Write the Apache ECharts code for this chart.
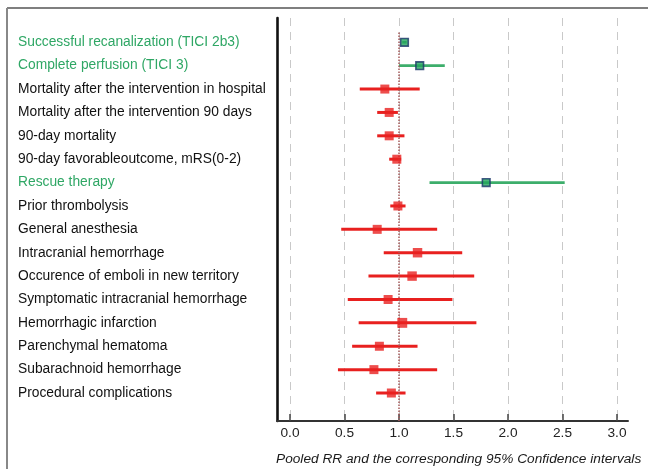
<!DOCTYPE html>
<html>
<head>
<meta charset="utf-8">
<script src="https://cdn.jsdelivr.net/npm/echarts@6/dist/echarts.min.js"></script>
<style>
html,body{margin:0;padding:0;background:#fff;}
#chart{width:648px;height:469px;}
</style>
</head>
<body>
<div id="chart"></div>
<script>
// ---- data ----
var categories = [
  'Successful recanalization (TICI 2b3)',
  'Complete perfusion (TICI 3)',
  'Mortality after the intervention in hospital',
  'Mortality after the intervention 90 days',
  '90-day mortality',
  '90-day favorableoutcome, mRS(0-2)',
  'Rescue therapy',
  'Prior thrombolysis',
  'General anesthesia',
  'Intracranial hemorrhage',
  'Occurence of emboli in new territory',
  'Symptomatic intracranial hemorrhage',
  'Hemorrhagic infarction',
  'Parenchymal hematoma',
  'Subarachnoid hemorrhage',
  'Procedural complications'
];
var estimates = [1.05, 1.19, 0.87, 0.91, 0.91, 0.98, 1.80, 0.99, 0.80, 1.17, 1.12, 0.90, 1.03, 0.82, 0.77, 0.93];
var lower     = [1.03, 1.00, 0.64, 0.80, 0.80, 0.91, 1.28, 0.92, 0.47, 0.86, 0.72, 0.53, 0.63, 0.57, 0.44, 0.79];
var upper     = [1.07, 1.42, 1.19, 0.99, 1.05, 1.02, 2.52, 1.06, 1.35, 1.58, 1.69, 1.49, 1.71, 1.17, 1.35, 1.06];
var weights   = [0.85, 0.85, 1.0, 1.0, 1.0, 1.0, 0.85, 1.0, 1.0, 1.05, 1.05, 1.0, 1.1, 1.0, 1.0, 1.0];
var highlighted = [1, 1, 0, 0, 0, 0, 1, 0, 0, 0, 0, 0, 0, 0, 0, 0];
var xTicks = [0, 0.5, 1.0, 1.5, 2.0, 2.5, 3.0];
var nullValue = 1.0;
var axisTitle = 'Pooled RR and the corresponding 95% Confidence intervals';

// ---- styles ----
var FONT = '"Liberation Sans", Arial, Helvetica, sans-serif';
var RED = '#e8201f';
var GREEN_LINE = '#3dae6b';
var GREEN_FILL = '#23a55c';
var NAVY = '#1a3569';
var GREEN_TEXT = '#2fa765';

var ciData = categories.map(function (c, i) { return [lower[i], upper[i], i]; });
var ptData = categories.map(function (c, i) {
  var g = highlighted[i] === 1;
  return {
    value: [estimates[i], i],
    symbolSize: 9 * weights[i],
    itemStyle: g ? {color: GREEN_FILL, borderColor: NAVY, borderWidth: 1.6} : {color: RED, borderWidth: 0}
  };
});

var chart = echarts.init(document.getElementById('chart'), null, {renderer: 'canvas'});
var option = {
  backgroundColor: '#ffffff',
  animation: false,
  textStyle: {fontFamily: FONT},
  title: {
    text: axisTitle,
    left: 271, top: 447,
    textStyle: {fontFamily: FONT, fontSize: 13.7, fontStyle: 'italic', fontWeight: 'normal', color: '#1a1a1a'}
  },
  graphic: [
    {type: 'line', shape: {x1: 7, y1: 8, x2: 648, y2: 8}, style: {stroke: '#555', lineWidth: 1.6}, silent: true},
    {type: 'line', shape: {x1: 7, y1: 8, x2: 7, y2: 469}, style: {stroke: '#888', lineWidth: 2}, silent: true}
  ],
  grid: [
    {left: 290, right: 31, top: 18, bottom: 48, containLabel: false, outerBoundsMode: 'none'},
    {left: 290, right: 31, top: 30.6, bottom: 64.3, containLabel: false, outerBoundsMode: 'none'},
    {left: 277, right: 20, top: 18, bottom: 48, containLabel: false, outerBoundsMode: 'none'}
  ],
  xAxis: [
    {
      gridIndex: 0, type: 'value', min: xTicks[0], max: xTicks[xTicks.length - 1], interval: 0.5,
      axisLine: {show: false},
      axisTick: {show: true, inside: true, length: 7, lineStyle: {color: '#444', width: 1.5}},
      splitLine: {show: true, lineStyle: {color: '#c9c9c9', width: 1, type: [8, 6]}},
      axisLabel: {show: true, margin: 5, fontFamily: FONT, fontSize: 13.7, color: '#222',
        formatter: function (v) { return v.toFixed(1); }}
    },
    {
      gridIndex: 1, type: 'value', min: xTicks[0], max: xTicks[xTicks.length - 1],
      show: false
    },
    {
      gridIndex: 2, type: 'value', min: 0, max: 1,
      axisLine: {show: true, onZero: false, lineStyle: {color: '#333', width: 2}},
      axisTick: {show: false}, axisLabel: {show: false}, splitLine: {show: false}
    }
  ],
  yAxis: [
    {gridIndex: 0, type: 'value', min: 0, max: 1, show: false},
    {
      gridIndex: 1, type: 'category', data: categories, inverse: true, boundaryGap: true,
      axisLine: {show: false}, axisTick: {show: false}, splitLine: {show: false},
      axisLabel: {
        show: true, interval: 0, margin: 272, align: 'left', verticalAlign: 'middle',
        fontFamily: FONT, fontSize: 13.8,
        formatter: function (v, i) { return (highlighted[i] ? '{g|' : '{k|') + v + '}'; },
        rich: {
          g: {color: GREEN_TEXT, fontFamily: FONT, fontSize: 13.8},
          k: {color: '#111', fontFamily: FONT, fontSize: 13.8}
        }
      }
    },
    {
      gridIndex: 2, type: 'value', min: 0, max: 1,
      axisLine: {show: true, onZero: false, lineStyle: {color: '#111', width: 2.6}},
      axisTick: {show: false}, axisLabel: {show: false}, splitLine: {show: false}
    }
  ],
  series: [
    {
      type: 'line', xAxisIndex: 0, yAxisIndex: 0,
      data: [[nullValue, 0], [nullValue, 0.968]],
      symbol: 'none', silent: true,
      lineStyle: {color: '#a45a5a', width: 1.5, type: 'dotted'}
    },
    {
      type: 'custom', xAxisIndex: 1, yAxisIndex: 1,
      data: ciData,
      encode: {x: [0, 1], y: 2},
      renderItem: function (params, api) {
        var idx = api.value(2);
        var a = api.coord([api.value(0), idx]);
        var b = api.coord([api.value(1), idx]);
        var g = highlighted[idx] === 1;
        return {
          type: 'line',
          shape: {x1: a[0], y1: a[1], x2: b[0], y2: b[1]},
          style: {stroke: g ? GREEN_LINE : RED, lineWidth: g ? 2.6 : 3}
        };
      },
      z: 3
    },
    {
      type: 'scatter', xAxisIndex: 1, yAxisIndex: 1,
      symbol: 'rect',
      data: ptData,
      z: 4
    }
  ]
};
chart.setOption(option);
</script>
</body>
</html>
